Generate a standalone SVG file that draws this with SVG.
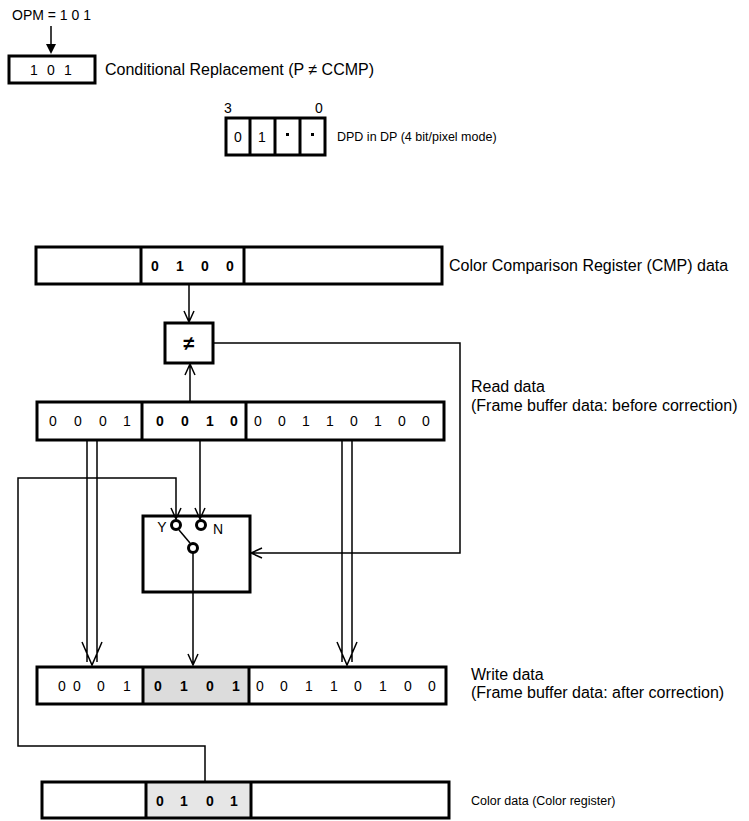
<svg xmlns="http://www.w3.org/2000/svg" width="749" height="821" viewBox="0 0 749 821">
<style>
.reg{fill:none;stroke:#000;stroke-width:3}
.ln{fill:none;stroke:#000;stroke-width:1.5}
.t{font-family:"Liberation Sans",Arial,sans-serif;font-size:16px;fill:#000}
.s{font-family:"Liberation Sans",Arial,sans-serif;font-size:14px;fill:#000}
.m{font-family:"Liberation Sans",Arial,sans-serif;font-size:12.5px;fill:#000}
.d{font-family:"Liberation Sans",Arial,sans-serif;font-size:14px;fill:#000;text-anchor:middle}
.b{font-weight:bold}
.term{fill:#fff;stroke:#000;stroke-width:3}
</style>
<rect width="749" height="821" fill="#fff"/>

<g id="opm">
<text class="s" x="12" y="20">OPM = 1 0 1</text>
<line class="ln" x1="51" y1="26" x2="51" y2="46"/>
<polygon points="46,44 56,44 51,54" fill="#000"/>
<rect class="reg" x="9" y="56" width="86" height="27"/>
<text class="d" x="34" y="75">1</text><text class="d" x="51" y="75">0</text><text class="d" x="68" y="75">1</text>
<text class="t" x="105" y="75">Conditional Replacement (P ≠ CCMP)</text>
</g>

<g id="dpd">
<text class="d" x="228" y="113">3</text>
<text class="d" x="319" y="113">0</text>
<rect class="reg" x="226" y="118" width="99" height="37"/>
<line class="reg" x1="250" y1="118" x2="250" y2="155"/>
<line class="reg" x1="275" y1="118" x2="275" y2="155"/>
<line class="reg" x1="300" y1="118" x2="300" y2="155"/>
<text class="d" x="238" y="142">0</text><text class="d" x="262" y="142">1</text>
<rect x="286" y="133" width="3" height="3" fill="#000"/>
<rect x="311" y="133" width="3" height="3" fill="#000"/>
<text class="m" x="337" y="141">DPD in DP (4 bit/pixel mode)</text>
</g>

<g id="cmp">
<rect class="reg" x="36" y="247" width="406" height="37"/>
<line class="reg" x1="141" y1="247" x2="141" y2="284"/>
<line class="reg" x1="244" y1="247" x2="244" y2="284"/>
<g class="d b"><text x="155" y="271">0</text><text x="180" y="271">1</text><text x="205" y="271">0</text><text x="230" y="271">0</text></g>
<text class="t" x="449" y="271">Color Comparison Register (CMP) data</text>
</g>

<g id="neq">
<rect class="reg" x="165" y="323" width="48" height="40"/>
<text class="d b" x="189" y="350" style="font-size:20px">≠</text>
</g>

<g id="read">
<rect class="reg" x="37" y="402" width="407" height="38"/>
<line class="reg" x1="142" y1="402" x2="142" y2="440"/>
<line class="reg" x1="246" y1="402" x2="246" y2="440"/>
<g class="d"><text x="53" y="426">0</text><text x="78" y="426">0</text><text x="103" y="426">0</text><text x="127" y="426">1</text></g>
<g class="d b"><text x="160" y="426">0</text><text x="185" y="426">0</text><text x="210" y="426">1</text><text x="234" y="426">0</text></g>
<g class="d"><text x="258" y="426">0</text><text x="282" y="426">0</text><text x="306" y="426">1</text><text x="330" y="426">1</text><text x="354" y="426">0</text><text x="378" y="426">1</text><text x="402" y="426">0</text><text x="426" y="426">0</text></g>
<text class="t" x="471" y="392">Read data</text>
<text class="t" x="471" y="411">(Frame buffer data: before correction)</text>
</g>

<g id="switch">
<rect class="reg" x="143" y="516" width="107" height="76"/>
<line class="ln" x1="179" y1="530" x2="190" y2="543"/>
<circle class="term" cx="176" cy="525" r="4.5"/>
<circle class="term" cx="201" cy="525" r="4.5"/>
<circle class="term" cx="193" cy="548" r="4.5"/>
<text class="s" x="162" y="532" text-anchor="middle">Y</text>
<text class="s" x="218" y="534" text-anchor="middle">N</text>
</g>

<g id="write">
<rect x="143" y="667" width="106" height="37" fill="#dcdcdc"/>
<rect class="reg" x="37" y="667" width="409" height="37"/>
<line class="reg" x1="143" y1="667" x2="143" y2="704"/>
<line class="reg" x1="249" y1="667" x2="249" y2="704"/>
<g class="d"><text x="62" y="691">0</text><text x="77" y="691">0</text><text x="101" y="691">0</text><text x="127" y="691">1</text></g>
<g class="d b"><text x="158" y="691">0</text><text x="184" y="691">1</text><text x="210" y="691">0</text><text x="236" y="691">1</text></g>
<g class="d"><text x="260" y="691">0</text><text x="284" y="691">0</text><text x="309" y="691">1</text><text x="334" y="691">1</text><text x="358" y="691">0</text><text x="383" y="691">1</text><text x="408" y="691">0</text><text x="432" y="691">0</text></g>
<text class="t" x="471" y="680">Write data</text>
<text class="t" x="471" y="698">(Frame buffer data: after correction)</text>
</g>

<g id="color">
<rect x="146" y="782" width="105" height="36" fill="#e6e6e6"/>
<rect class="reg" x="42" y="782" width="407" height="36"/>
<line class="reg" x1="146" y1="782" x2="146" y2="818"/>
<line class="reg" x1="251" y1="782" x2="251" y2="818"/>
<g class="d b"><text x="160" y="806">0</text><text x="184" y="806">1</text><text x="210" y="806">0</text><text x="234" y="806">1</text></g>
<text class="m" x="471" y="805">Color data (Color register)</text>
</g>

<g id="connectors">
<path class="ln" d="M189 284V322M184 311L189 322L194 311"/>
<path class="ln" d="M190 402V364M185 375L190 364L195 375"/>
<path class="ln" d="M213 343H460V553H251M262 548L251 553L262 558"/>
<path class="ln" d="M87 440V662M97 440V662M82 642L92 665L102 642"/>
<path class="ln" d="M342 440V662M352 440V662M337 642L347 665L357 642"/>
<path class="ln" d="M200 440V519M195 508L200 519L205 508"/>
<path class="ln" d="M193 553V665M188 654L193 665L198 654"/>
<path class="ln" d="M205 782V746H18V478H176V519M171 508L176 519L181 508"/>
</g>
</svg>
